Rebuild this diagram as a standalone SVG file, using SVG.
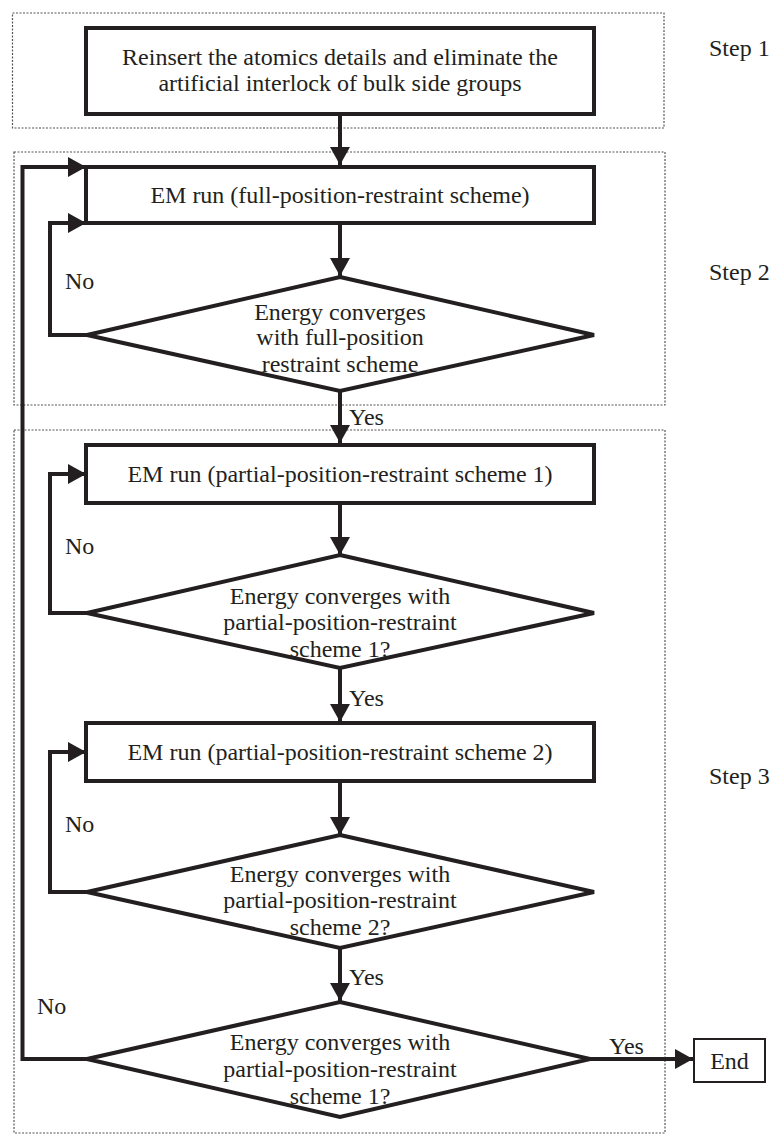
<svg xmlns="http://www.w3.org/2000/svg" width="773" height="1142" viewBox="0 0 773 1142" font-family="Liberation Serif, Times New Roman, serif">
<defs>
<style>
text{font-family:'Liberation Serif','Times New Roman',serif;font-size:24px;fill:#231f20}
.t{text-anchor:middle}
.box{fill:#fff;stroke:#231f20;stroke-width:4}
.dash{fill:none;stroke:#555;stroke-width:1.2;stroke-dasharray:2 1.5}
.c{fill:none;stroke:#231f20;stroke-width:4}
</style>
<marker id="ah" markerUnits="userSpaceOnUse" markerWidth="20" markerHeight="22" refX="18" refY="10" orient="auto">
<path d="M0,0 L18,10 L0,20 Z" fill="#231f20"/>
</marker>
</defs>
<rect width="773" height="1142" fill="#fff"/>
<g id="groups">
<rect class="dash" x="12.5" y="13" width="651.5" height="115"/>
<rect class="dash" x="14" y="152" width="651" height="253"/>
<rect class="dash" x="14" y="430" width="651" height="703"/>
<text x="709" y="56">Step 1</text>
<text x="709" y="280">Step 2</text>
<text x="709" y="784">Step 3</text>
</g>
<g id="connectors">
<path class="c" d="M340,114 V165" marker-end="url(#ah)"/>
<path class="c" d="M340,223 V276" marker-end="url(#ah)"/>
<path class="c" d="M87,335 H50 V223 H86" marker-end="url(#ah)"/>
<path class="c" d="M340,391 V443" marker-end="url(#ah)"/>
<path class="c" d="M340,503 V555" marker-end="url(#ah)"/>
<path class="c" d="M87,613 H50 V474 H86" marker-end="url(#ah)"/>
<path class="c" d="M340,668 V722" marker-end="url(#ah)"/>
<path class="c" d="M340,781 V835" marker-end="url(#ah)"/>
<path class="c" d="M87,892 H50 V752 H86" marker-end="url(#ah)"/>
<path class="c" d="M340,948 V1001" marker-end="url(#ah)"/>
<path class="c" d="M87,1059 H22.5 V167 H86" marker-end="url(#ah)"/>
<path class="c" d="M590,1059 H693" marker-end="url(#ah)"/>
<text x="65" y="289">No</text>
<text x="65" y="554">No</text>
<text x="65" y="832">No</text>
<text x="37" y="1014">No</text>
<text x="349" y="425">Yes</text>
<text x="349" y="706">Yes</text>
<text x="349" y="985">Yes</text>
<text x="609" y="1054">Yes</text>
</g>
<g id="n1">
<rect class="box" x="86" y="28" width="508" height="86"/>
<text class="t" x="340" y="65">Reinsert the atomics details and eliminate the</text>
<text class="t" x="340" y="91">artificial interlock of bulk side groups</text>
</g>
<g id="n2">
<rect class="box" x="86" y="167" width="508" height="56"/>
<text class="t" x="340" y="203">EM run (full-position-restraint scheme)</text>
</g>
<g id="d1">
<polygon class="box" points="340,277 594,335 340,391 87,335"/>
<text class="t" x="340" y="320">Energy converges</text>
<text class="t" x="340" y="345">with full-position</text>
<text class="t" x="340" y="372">restraint scheme</text>
</g>
<g id="n3">
<rect class="box" x="86" y="445" width="508" height="58"/>
<text class="t" x="340" y="482">EM run (partial-position-restraint scheme 1)</text>
</g>
<g id="d2">
<polygon class="box" points="340,555 594,613 340,668 87,613"/>
<text class="t" x="340" y="604">Energy converges with</text>
<text class="t" x="340" y="630">partial-position-restraint</text>
<text class="t" x="340" y="657">scheme 1?</text>
</g>
<g id="n4">
<rect class="box" x="86" y="723" width="508" height="58"/>
<text class="t" x="340" y="760">EM run (partial-position-restraint scheme 2)</text>
</g>
<g id="d3">
<polygon class="box" points="340,835 594,892 340,948 87,892"/>
<text class="t" x="340" y="882">Energy converges with</text>
<text class="t" x="340" y="908">partial-position-restraint</text>
<text class="t" x="340" y="935">scheme 2?</text>
</g>
<g id="d4">
<polygon class="box" points="340,1002 590,1059 340,1117 87,1059"/>
<text class="t" x="340" y="1050">Energy converges with</text>
<text class="t" x="340" y="1077">partial-position-restraint</text>
<text class="t" x="340" y="1104">scheme 1?</text>
</g>
<g id="end">
<rect x="694" y="1039" width="71" height="43" fill="#fff" stroke="#231f20" stroke-width="2"/>
<text class="t" x="729.5" y="1069">End</text>
</g>
</svg>
